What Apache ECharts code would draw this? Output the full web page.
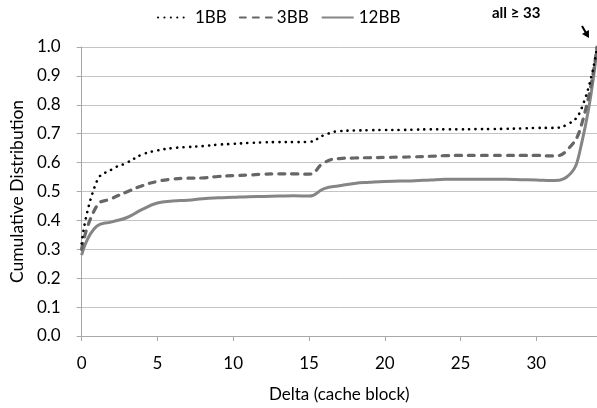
<!DOCTYPE html>
<html>
<head>
<meta charset="utf-8">
<script src="https://cdn.jsdelivr.net/npm/echarts@6/dist/echarts.min.js"></script>
<style>
  html, body { margin: 0; padding: 0; background: #fff; }
  #chart { width: 597px; height: 408px; }
</style>
</head>
<body>
<div id="chart"></div>
<script>
// Delta in cache blocks; the final point is the bucket holding every delta >= 33
const deltas = [0,1,2,3,4,5,6,7,8,9,10,11,12,13,14,15,16,17,18,19,20,21,22,23,24,25,26,27,28,29,30,31,32,33,34];

// Cumulative distribution per configuration
const oneBB = [0.32,0.535,0.577,0.60,0.628,0.642,0.65,0.654,0.657,0.662,0.665,0.668,0.67,0.671,0.671,0.672,0.695,0.709,0.711,0.712,0.713,0.713,0.714,0.715,0.715,0.715,0.716,0.716,0.717,0.718,0.72,0.72,0.731,0.79,1.0];
const threeBB = [0.30,0.45,0.476,0.499,0.52,0.535,0.543,0.546,0.547,0.552,0.555,0.557,0.56,0.561,0.561,0.56,0.60,0.614,0.616,0.617,0.618,0.619,0.62,0.622,0.624,0.625,0.625,0.625,0.625,0.625,0.625,0.623,0.642,0.735,1.0];
const twelveBB = [0.28,0.38,0.395,0.41,0.438,0.46,0.467,0.47,0.475,0.478,0.48,0.482,0.483,0.484,0.485,0.484,0.51,0.52,0.528,0.532,0.535,0.536,0.537,0.54,0.542,0.542,0.542,0.542,0.542,0.541,0.54,0.538,0.55,0.67,1.0];

const seriesNames = ['1BB', '3BB', '12BB'];
const xTitle = 'Delta (cache block)';
const yTitle = 'Cumulative Distribution';
const tailLabel = 'all \u2265 33';

const FONT = 'Lato, "Open Sans", "DejaVu Sans", sans-serif';
const TEXT = '#000';

const pairs = ys => deltas.map((d, i) => [d, ys[i]]);

const chart = echarts.init(document.getElementById('chart'), null, { renderer: 'canvas' });

const option = {
  animation: false,
  backgroundColor: '#fff',
  textStyle: { fontFamily: FONT, color: TEXT },
  legend: {
    data: seriesNames,
    left: 152,
    top: 4,
    itemWidth: 32,
    itemHeight: 14,
    itemGap: 12,
    itemStyle: { opacity: 0 },
    textStyle: { fontFamily: FONT, fontSize: 17, color: TEXT }
  },
  grid: { left: 79, top: 47, width: 524, height: 290, containLabel: false },
  xAxis: {
    type: 'value',
    min: 0,
    max: 34,
    interval: 5,
    name: xTitle,
    nameLocation: 'middle',
    nameGap: 50,
    nameTextStyle: { fontFamily: FONT, fontSize: 17, color: TEXT },
    axisLine: { lineStyle: { color: '#a8a8a8', width: 1 } },
    axisTick: { show: true, inside: false, length: 5, lineStyle: { color: '#a8a8a8' } },
    axisLabel: { fontFamily: FONT, fontSize: 17, color: TEXT, margin: 19, showMaxLabel: false },
    splitLine: { show: false }
  },
  yAxis: {
    type: 'value',
    min: 0,
    max: 1,
    interval: 0.1,
    name: yTitle,
    nameLocation: 'middle',
    nameGap: 52,
    nameRotate: 90,
    nameTextStyle: { fontFamily: FONT, fontSize: 17.5, color: TEXT },
    axisLine: { show: true, lineStyle: { color: '#a8a8a8', width: 1 } },
    axisTick: { show: true, inside: false, length: 5, lineStyle: { color: '#a8a8a8' } },
    axisLabel: { fontFamily: FONT, fontSize: 17, color: TEXT, margin: 21, formatter: v => v.toFixed(1) },
    splitLine: { show: true, lineStyle: { color: '#c4c4c4', width: 1 } }
  },
  series: [
    {
      name: seriesNames[0], type: 'line', data: pairs(oneBB), smooth: 0.5,
      symbol: 'none', z: 4,
      lineStyle: { color: '#000', width: 2.6, type: [0.1, 6.3], cap: 'round' },
      itemStyle: { color: '#000' }
    },
    {
      name: seriesNames[1], type: 'line', data: pairs(threeBB), smooth: 0.5,
      symbol: 'none', z: 3,
      lineStyle: { color: '#666', width: 3.2, type: [6, 7], cap: 'round' },
      itemStyle: { color: '#666' }
    },
    {
      name: seriesNames[2], type: 'line', data: pairs(twelveBB), smooth: 0.5,
      symbol: 'none', z: 2,
      lineStyle: { color: '#858585', width: 3 },
      itemStyle: { color: '#858585' }
    }
  ]
};

chart.setOption(option);

// Callout pointing at the final "all >= 33" bucket
const tip = chart.convertToPixel({ gridIndex: 0 }, [deltas[deltas.length - 1], 1.0]);
const ax = tip[0] - 8, ay = tip[1] - 9;   // arrow head
const bx = tip[0] - 15, by = tip[1] - 21; // arrow tail
const ang = Math.atan2(ay - by, ax - bx);
const hl = 7, hw = 4;
const head = [
  [ax, ay],
  [ax - hl * Math.cos(ang) + hw * Math.sin(ang), ay - hl * Math.sin(ang) - hw * Math.cos(ang)],
  [ax - hl * Math.cos(ang) - hw * Math.sin(ang), ay - hl * Math.sin(ang) + hw * Math.cos(ang)]
];
chart.setOption({
  graphic: [
    {
      type: 'text',
      left: tip[0] - 105,
      top: 6,
      style: { text: tailLabel, fontFamily: FONT, fontSize: 15, fontWeight: 'bold', fill: TEXT }
    },
    {
      type: 'line',
      shape: { x1: bx, y1: by, x2: ax - 3 * Math.cos(ang), y2: ay - 3 * Math.sin(ang) },
      style: { stroke: '#000', lineWidth: 2 }
    },
    {
      type: 'polygon',
      shape: { points: head },
      style: { fill: '#000' }
    }
  ]
});
</script>
</body>
</html>
